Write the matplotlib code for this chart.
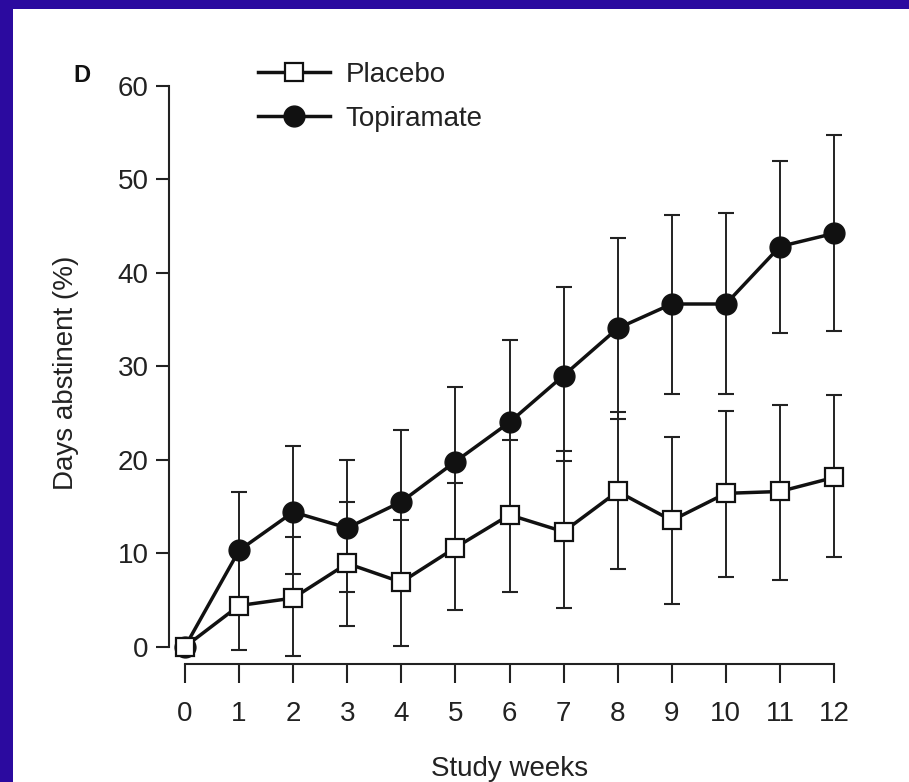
import matplotlib
matplotlib.use("Agg")
import matplotlib.pyplot as plt
from matplotlib.patches import Rectangle

weeks = [0, 1, 2, 3, 4, 5, 6, 7, 8, 9, 10, 11, 12]
tick_labels = ["0", "1", "2", "3", "4", "5", "6", "7", "8", "9", "10", "11", "12"]

placebo = [0, 4.4, 5.2, 8.9, 6.9, 10.6, 14.1, 12.3, 16.6, 13.5, 16.4, 16.6, 18.1]
placebo_low = [0, -0.3, -1.0, 2.2, 0.1, 3.9, 5.9, 4.1, 8.3, 4.6, 7.5, 7.1, 9.6]
placebo_high = [0, 9.8, 11.7, 15.5, 13.6, 17.5, 22.1, 20.9, 25.1, 22.4, 25.2, 25.8, 26.9]

topiramate = [0, 10.3, 14.4, 12.7, 15.5, 19.8, 24.0, 29.0, 34.05, 36.65, 36.65, 42.8, 44.2]
topiramate_low = [0, 4.3, 7.75, 5.8, 7.3, 11.0, 14.5, 19.9, 24.4, 27.0, 27.0, 33.6, 33.8]
topiramate_high = [0, 16.5, 21.5, 20.0, 23.2, 27.8, 32.8, 38.5, 43.7, 46.2, 46.4, 51.9, 54.7]

y_ticks = [0, 10, 20, 30, 40, 50, 60]

plt.rcParams["font.family"] = ["Liberation Sans", "DejaVu Sans"]

W, H = 909, 782
fig = plt.figure(figsize=(W / 100, H / 100), dpi=100)
fig.patch.set_facecolor("#2B0A9F")
fig.add_artist(Rectangle((13 / W, 0), 1 - 13 / W, (H - 9) / H, transform=fig.transFigure,
                         facecolor="white", edgecolor="none", zorder=0))

ax = fig.add_axes([168.8 / W, (H - 664) / H, 681.4 / W, (664 - 81) / H])
ax.set_facecolor("none")

ink = "#111111"
txt = "#222222"
p_err = [[v - l for v, l in zip(placebo, placebo_low)], [h - v for v, h in zip(placebo, placebo_high)]]
t_err = [[v - l for v, l in zip(topiramate, topiramate_low)], [h - v for v, h in zip(topiramate, topiramate_high)]]

ax.errorbar(weeks[1:], topiramate[1:], yerr=[t_err[0][1:], t_err[1][1:]], fmt="none",
            ecolor="#222222", elinewidth=1.4, capsize=5.8, capthick=1.5, zorder=2)
ax.errorbar(weeks[1:], placebo[1:], yerr=[p_err[0][1:], p_err[1][1:]], fmt="none",
            ecolor="#222222", elinewidth=1.4, capsize=5.8, capthick=1.5, zorder=2)

ax.plot(weeks, topiramate, color=ink, lw=2.5, marker="o", markersize=15,
        markerfacecolor=ink, markeredgecolor=ink, label="Topiramate", zorder=3, clip_on=False)
ax.plot(weeks, placebo, color=ink, lw=2.5, marker="s", markersize=13,
        markerfacecolor="white", markeredgecolor=ink, markeredgewidth=1.6,
        label="Placebo", zorder=4, clip_on=False)

ax.set_xlim(-0.3, 12.3)
ax.set_ylim(-1.85, 60.5)
ax.set_xticks(weeks)
ax.set_xticklabels(tick_labels)
ax.set_yticks(y_ticks)

for s in ["top", "right"]:
    ax.spines[s].set_visible(False)
ax.spines["left"].set_bounds(0, 60)
ax.spines["bottom"].set_bounds(0, 12)
for s in ["left", "bottom"]:
    ax.spines[s].set_linewidth(1.5)
    ax.spines[s].set_color("#222222")

ax.tick_params(axis="y", length=9.5, width=1.5, pad=5, labelsize=20, colors=txt)
ax.tick_params(axis="x", length=13.5, width=1.5, pad=13, labelsize=20, colors=txt)

ax.set_ylabel("Days abstinent (%)", fontsize=20, color=txt, labelpad=28)
ax.set_xlabel("Study weeks", fontsize=20, color=txt, labelpad=21)

fig.text(73 / W, 1 - 76 / H, "D", fontsize=17, fontweight="bold", color="#111111",
         va="center", ha="left")

h, l = ax.get_legend_handles_labels()
leg = ax.legend([h[1], h[0]], [l[1], l[0]], loc="upper left", bbox_to_anchor=(258 / W, 1 - 62 / H),
                bbox_transform=fig.transFigure, frameon=False, fontsize=20,
                handlelength=2.6, handletextpad=0.55, labelspacing=0.65, borderpad=0, borderaxespad=0)
for t in leg.get_texts():
    t.set_color(txt)

fig.savefig("out.png", dpi=100, facecolor=fig.get_facecolor())
